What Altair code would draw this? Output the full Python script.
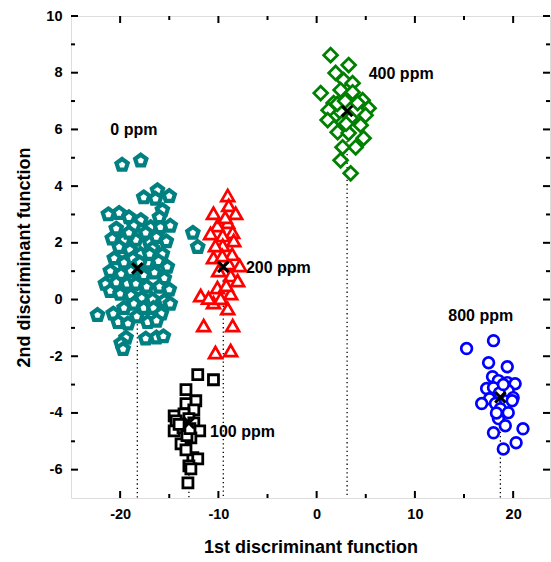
import altair as alt
import pandas as pd

# Discriminant scores (1st, 2nd function) for each treatment group
ppm0_x = [-19.8, -17.9, -16.2, -15.0, -17.6, -16.4, -15.7, -21.2, -20.1, -19.1,
          -17.9, -16.9, -15.9, -14.9, -20.4, -18.6, -17.4, -12.6, -12.1, -20.8,
          -19.6, -18.4, -17.0, -16.3, -15.3, -20.1, -19.0, -17.9, -16.7, -15.7,
          -20.6, -19.6, -18.7, -17.2, -16.1, -15.2, -21.0, -19.9, -18.9, -17.6,
          -16.5, -15.5, -20.4, -19.3, -18.4, -17.3, -16.0, -15.0, -21.5, -21.0,
          -20.0, -18.9, -17.8, -16.7, -15.5, -14.9, -22.3, -20.7, -19.6, -18.6,
          -17.6, -16.6, -15.8, -20.2, -19.2, -18.3, -17.2, -16.3, -19.4, -17.4,
          -16.3, -15.6, -19.9, -19.7, -19.1, -16.0, -18.0, -17.0]
ppm0_y = [4.75, 4.9, 3.85, 3.65, 3.6, 3.55, 3.15, 3.0, 3.05, 2.9,
          2.8, 2.55, 2.55, 2.6, 2.5, 2.6, 2.35, 2.35, 1.85, 2.15,
          2.1, 2.1, 2.0, 2.2, 2.05, 1.85, 1.75, 1.6, 1.8, 1.6,
          1.45, 1.3, 1.45, 1.3, 1.35, 1.15, 1.0, 0.9, 1.0, 0.85,
          0.95, 0.75, 0.6, 0.55, 0.55, 0.45, 0.45, 0.35, 0.55, 0.3,
          0.2, 0.15, 0.05, 0.0, -0.05, -0.15, -0.55, -0.5, -0.3, -0.15,
          -0.3, -0.3, -0.5, -0.8, -0.85, -0.6, -0.8, -0.75, -1.35, -1.38,
          -1.34, -1.3, -1.55, -1.75, 2.35, 2.9, 1.3, 1.6]

ppm100_x = [-12.1, -10.5, -13.3, -12.3, -13.3, -12.5, -14.5, -13.5, -14.3, -13.0,
            -12.5, -14.5, -13.6, -11.9, -12.8, -13.8, -12.6, -12.1, -13.0, -13.1,
            -12.8, -14.0, -13.2, -12.9, -13.3]
ppm100_y = [-2.65, -2.83, -3.18, -3.57, -3.67, -3.89, -4.1, -4.03, -4.28, -4.2,
            -4.35, -4.63, -4.52, -4.63, -4.88, -5.09, -5.58, -5.62, -5.87, -6.47,
            -5.97, -4.4, -4.8, -4.55, -5.3]

ppm200_x = [-9.05, -8.95, -10.5, -8.24, -9.05, -10.1, -8.55, -10.8, -9.56, -8.44,
            -9.56, -10.5, -8.95, -7.83, -9.97, -8.75, -8.04, -10.1, -8.75, -11.8,
            -10.5, -9.77, -9.05, -11.5, -8.55, -10.3, -8.75, -9.3, -8.6, -9.2,
            -10.3, -9.6, -11.0]
ppm200_y = [3.67, 3.32, 3.04, 3.04, 2.72, 2.61, 2.37, 2.33, 2.26, 2.08,
            1.91, 1.48, 1.27, 1.2, 1.02, 0.85, 0.67, 0.42, 0.21, 0.14,
            -0.11, 0.04, -0.32, -0.92, -0.92, -1.87, -1.8, 2.9, 1.6, 0.5,
            1.9, 1.55, 0.05]

ppm400_x = [1.42, 3.26, 1.93, 2.75, 3.66, 0.41, 2.44, 3.66, 4.68, 1.73,
            4.17, 5.29, 1.22, 4.98, 2.44, 1.12, 2.64, 3.46, 4.48, 2.14,
            3.26, 4.78, 3.97, 2.64, 2.44, 3.46, 2.1, 3.0, 2.9]
ppm400_y = [8.62, 8.27, 7.99, 7.74, 7.63, 7.28, 7.39, 7.31, 7.03, 6.93,
            6.93, 6.75, 6.68, 6.5, 6.61, 6.33, 6.25, 6.4, 6.15, 5.9,
            5.87, 5.69, 5.37, 5.37, 4.91, 4.45, 6.9, 6.2, 7.0]

ppm800_x = [15.26, 18.0, 17.5, 19.4, 17.9, 18.5, 19.4, 20.2, 17.3, 18.0,
            19.5, 17.6, 20.0, 16.8, 18.2, 19.9, 18.7, 19.5, 18.5, 19.2,
            21.0, 18.0, 20.3, 19.0, 18.6, 19.0, 18.3]
ppm800_y = [-1.73, -1.45, -2.23, -2.37, -2.72, -2.86, -2.93, -2.97, -3.14, -3.11,
            -3.22, -3.5, -3.46, -3.67, -3.67, -3.57, -3.85, -3.99, -4.2, -4.45,
            -4.56, -4.7, -5.05, -5.27, -3.3, -3.0, -4.0]

groups = ["0 ppm", "100 ppm", "200 ppm", "400 ppm", "800 ppm"]

# Group centroids and label anchors
centroid_x = [-18.25, -13.0, -9.5, 3.1, 18.7]
centroid_y = [1.1, -4.35, 1.15, 6.65, -3.45]
label_x = [-21.0, -10.85, -7.2, 5.3, 13.4]
label_y = [5.98, -4.67, 1.11, 7.95, -0.58]

x_ticks_major = [-20, -10, 0, 10, 20]
x_ticks_minor = [-15, -5, 5, 15]
y_ticks_major = [-6, -4, -2, 0, 2, 4, 6, 8, 10]
y_ticks_minor = [-5, -3, -1, 1, 3, 5, 7, 9]

series = [(ppm0_x, ppm0_y), (ppm100_x, ppm100_y), (ppm200_x, ppm200_y),
          (ppm400_x, ppm400_y), (ppm800_x, ppm800_y)]
cents = pd.DataFrame({"f1": centroid_x, "f2": centroid_y, "group": groups})
labels = pd.DataFrame({"f1": label_x, "f2": label_y, "text": groups})
xt_major = pd.DataFrame({"f1": x_ticks_major})
xt_minor = pd.DataFrame({"f1": x_ticks_minor})
yt_major = pd.DataFrame({"f2": y_ticks_major})
yt_minor = pd.DataFrame({"f2": y_ticks_minor})

W, H = 479, 482
FONT = "Liberation Sans"
MAJOR, MINOR = 7, 4
xscale = alt.Scale(domain=[-25, 23.75], nice=False, zero=False)
yscale = alt.Scale(domain=[-7, 10], nice=False, zero=False)

pentagon = "M0,-1L0.951,-0.309L0.588,0.809L-0.588,0.809L-0.951,-0.309Z"
cross = "M-1,-1L1,1M1,-1L-1,1"

# symbol style per group
sym_shape = [pentagon, "square", "triangle-up", "diamond", "circle"]
sym_color = ["#008080", "#000000", "#ff0000", "#008000", "#0000ff"]
sym_size = [140, 100, 165, 190, 115]
sym_stroke = [4.2, 2.8, 2.7, 2.8, 2.7]

x_main = alt.Axis(orient="bottom", values=x_ticks_major, labelExpr="datum.value + ''",
                  ticks=False, tickSize=0, domain=False, grid=False, labelFont=FONT,
                  labelFontSize=14.5, labelFontWeight="bold", labelColor="black",
                  labelPadding=9, title="1st discriminant function",
                  titleFont=FONT, titleFontSize=18, titleFontWeight="bold",
                  titleColor="black", titlePadding=18)
y_main = alt.Axis(orient="left", values=y_ticks_major, labelExpr="datum.value + ''",
                  ticks=False, tickSize=0, domain=False, grid=False, labelFont=FONT,
                  labelFontSize=14.5, labelFontWeight="bold", labelColor="black",
                  labelPadding=9, title="2nd discriminant function",
                  titleFont=FONT, titleFontSize=18, titleFontWeight="bold",
                  titleColor="black", titlePadding=12)

X = alt.X("f1:Q", scale=xscale, axis=x_main)
Y = alt.Y("f2:Q", scale=yscale, axis=y_main)

scatter_layers = []
for g, (xs_, ys_), shp, col, sz, sw in zip(groups, series, sym_shape, sym_color,
                                            sym_size, sym_stroke):
    df = pd.DataFrame({"f1": xs_, "f2": ys_, "group": g})
    scatter_layers.append(
        alt.Chart(df).mark_point(shape=shp, size=sz, strokeWidth=sw, stroke=col,
                                 fill="white", filled=False, opacity=1)
        .encode(x=X, y=Y)
    )

drops = alt.Chart(cents).mark_rule(color="black", strokeWidth=1.3, strokeDash=[1.3, 3]).encode(
    x=X, y=Y, y2=alt.value(H),
)

marks = alt.Chart(cents).mark_point(shape=cross, size=110, strokeWidth=3,
                                   color="black", opacity=1, filled=False).encode(
    x=X, y=Y,
)

text = alt.Chart(labels).mark_text(align="left", baseline="middle", font=FONT,
                                   fontSize=16, fontWeight="bold", color="black").encode(
    x=X, y=Y, text="text:N",
)


def x_ticks(df, length):
    # inward tick marks on the bottom and top edges
    base = alt.Chart(df).mark_rule(color="black", strokeWidth=2)
    return (base.encode(x=X, y=alt.value(H), y2=alt.value(H - length))
            + base.encode(x=X, y=alt.value(0), y2=alt.value(length)))


def y_ticks(df, length):
    # inward tick marks on the left and right edges
    base = alt.Chart(df).mark_rule(color="black", strokeWidth=2)
    return (base.encode(y=Y, x=alt.value(0), x2=alt.value(length))
            + base.encode(y=Y, x=alt.value(W), x2=alt.value(W - length)))


chart = alt.layer(
    drops, *scatter_layers, marks, text,
    x_ticks(xt_major, MAJOR), x_ticks(xt_minor, MINOR),
    y_ticks(yt_major, MAJOR), y_ticks(yt_minor, MINOR),
).properties(
    width=W, height=H,
    autosize=alt.AutoSizeParams(type="none"),
    padding={"left": 71, "top": 16, "right": 1, "bottom": 64},
).configure_view(stroke="black", strokeWidth=2).configure(background="white")

chart.save("out.html", embed_options={"renderer": "svg", "actions": False})
